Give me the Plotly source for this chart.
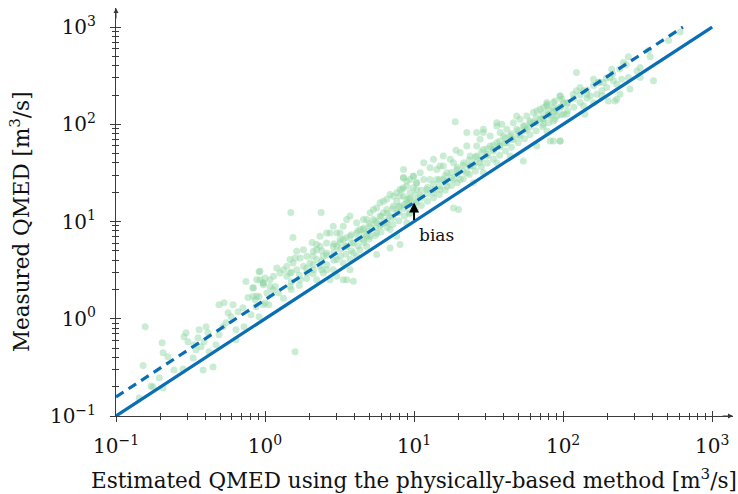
import math
import plotly.graph_objects as go

# ---- data ----
est_qmed = [
    0.157, 0.152, 0.143, 0.172, 0.195, 0.207, 0.177, 0.204, 0.207, 0.223, 0.245, 0.282, 0.295, 0.286, 0.304,
    0.329, 0.344, 0.334, 0.361, 0.355, 0.372, 0.402, 0.414, 0.39, 0.384, 0.448, 0.421, 0.469, 0.491, 0.523,
    0.547, 0.565, 0.592, 0.61, 0.531, 0.491, 0.659, 0.711, 0.723, 0.638, 0.638, 0.745, 0.83, 0.769, 0.83,
    0.912, 0.97, 0.87, 0.805, 0.912, 1.06, 1.13, 0.97, 0.912, 1.59,
    # 1 - 10
    0.835, 0.88, 0.925, 0.925, 0.86, 0.975, 1.03, 1.0, 1.49, 2.38, 1.54, 2.07, 1.81, 1.63, 1.59, 1.47, 1.40,
    1.33, 1.20, 1.14, 1.08, 0.975, 0.88, 1.0, 1.17, 1.23, 1.33, 1.47, 1.72, 1.91, 2.11, 2.34, 2.46, 2.73,
    3.03, 3.35, 3.72, 3.91, 2.11, 2.34, 2.59, 2.73, 3.03, 3.35, 3.53, 3.72, 4.12, 4.34, 4.81, 5.07, 5.33,
    5.61, 5.91, 6.22, 6.56, 6.90, 7.26, 7.65, 8.05, 8.47, 8.93, 8.47, 9.89, 10.4, 10.4, 9.40, 8.93, 8.05,
    7.65, 6.90, 6.56, 5.91, 5.61, 5.07, 4.57, 4.34, 3.91, 3.72, 3.35, 3.03, 2.87, 5.61, 6.90, 8.05, 7.65,
    8.93, 9.40, 10.4, 3.72, 3.35, 2.87, 2.46, 2.22, 2.00, 1.81, 1.63, 1.47, 1.91, 2.22, 2.59, 3.03, 3.19,
    3.53, 3.91, 4.12, 4.57, 4.81, 5.07, 5.33, 5.91, 6.22, 6.56, 7.26, 7.65, 8.47, 9.40, 9.89, 6.22, 6.90,
    5.61, 4.57, 2.87, 2.59, 2.34, 3.19, 2.22, 1.72, 1.54, 1.40, 1.26, 1.08, 4.81, 4.12, 3.53, 2.22, 2.59,
    # 8 - 100
    18.9, 19.1, 8.5, 8.3, 8.93, 9.4, 9.89, 11.0, 11.6, 12.8, 13.5, 14.9, 14.2, 16.6, 17.5, 15.7, 18.4,
    20.4, 22.6, 23.8, 26.3, 27.7, 29.2, 32.4, 35.9, 37.8, 41.9, 46.4, 51.4, 57.0, 63.2, 70.1, 77.8, 86.1,
    95.5, 98.0, 90.7, 81.9, 73.8, 63.2, 57.0, 51.4, 46.4, 41.9, 37.8, 34.1, 30.8, 27.7, 25.0, 22.6, 20.4,
    18.4, 16.6, 14.9, 13.5, 12.2, 11.0, 9.89, 8.93, 8.05, 18.4, 19.9, 25.0, 29.2, 35.9, 44.1, 54.1, 66.6,
    81.9, 95.5, 29.2, 26.3, 35.9, 38.8, 48.8, 66.6, 77.8, 22.6, 8.5, 11.6, 15.7, 10.4, 12.8, 14.2, 15.7,
    19.4, 21.5, 23.8, 26.3, 29.2, 32.4, 35.9, 39.8, 44.1, 48.8, 54.1, 60.0, 70.1, 86.1, 100.7,
    # 70 - 700
    610, 510, 374, 274, 384, 254, 329, 313, 274, 247, 229, 212, 207, 218, 196, 182, 172, 186, 160, 137,
    130, 123, 123, 144, 152, 168, 182, 241, 229, 223, 281, 329, 404, 201, 160, 137, 140, 117, 106, 95.5,
    88.4, 86.1, 95.5, 100.7, 90.7, 77.8, 73.8, 79.9, 86.1, 73.8, 77.8, 86.1, 95.5, 106,
    # dense band
    1.5, 1.5, 1.5, 1.7, 1.7, 1.9, 1.9, 2.1, 2.1, 2.1, 2.4, 2.4, 2.4, 2.6, 2.6, 2.9, 2.9, 2.9,
    3.2, 3.2, 3.2, 3.5, 3.5, 3.5, 3.8, 3.8, 3.8, 4.2, 4.2, 4.2, 4.6, 4.6, 4.6, 5.0, 5.0, 5.0,
    5.5, 5.5, 5.5, 6.0, 6.0, 6.0, 6.6, 6.6, 6.6, 7.2, 7.2, 7.2, 7.9, 7.9, 7.9, 8.6, 8.6, 8.6,
    9.3, 9.3, 9.3, 10.2, 10.2, 10.2, 11.2, 11.2, 11.2, 12.3, 12.3, 12.3, 13.5, 13.5, 13.5,
    14.8, 14.8, 14.8, 16.2, 16.2, 16.2, 17.8, 17.8, 17.8, 19.5, 19.5, 19.5, 21.4, 21.4, 21.4,
    23.5, 23.5, 23.5, 25.8, 25.8, 25.8, 28.3, 28.3, 28.3, 31, 31, 31, 34, 34, 34, 37.5, 37.5, 37.5,
    41, 41, 41, 45, 45, 45, 50, 50, 50, 55, 55, 55, 60, 60, 60, 66, 66, 66, 73, 73, 73, 80, 80, 80,
    88, 88, 97, 97, 107, 107, 118, 118, 130, 130, 145, 145, 160, 175, 195, 215, 240, 265,
]
meas_qmed = [
    0.83, 0.33, 0.153, 0.204, 0.247, 0.194, 0.199, 0.566, 0.446, 0.406, 0.298, 0.305, 0.717, 0.652, 0.579,
    0.396, 0.479, 0.54, 0.77, 0.637, 0.514, 0.828, 0.717, 0.579, 0.298, 0.32, 0.457, 0.54, 0.684, 0.828,
    0.91, 1.15, 1.05, 1.39, 1.46, 1.39, 1.18, 1.30, 0.828, 0.77, 0.608, 2.41, 2.09, 1.65, 1.69,
    1.69, 1.39, 1.33, 1.10, 1.05, 1.39, 1.99, 2.35, 3.05, 0.457,
    # 1 - 10
    2.07, 1.70, 2.52, 3.08, 1.57, 2.24, 1.84, 1.45, 12.4, 12.4, 6.84, 6.08, 5.14, 4.94, 4.22, 4.06, 3.46,
    3.20, 3.33, 2.73, 2.52, 2.33, 2.52, 2.63, 2.15, 1.84, 1.63, 2.15, 2.52, 2.96, 3.20, 3.46, 2.96, 2.52,
    2.73, 2.52, 3.20, 2.43, 4.94, 5.57, 6.03, 7.64, 7.64, 8.95, 10.5, 11.4, 9.69, 8.27, 10.5, 12.3, 13.3,
    13.8, 15.6, 16.2, 16.9, 19.0, 18.2, 19.8, 21.4, 22.2, 26.0, 28.2, 29.3, 25.0, 21.4, 19.8, 15.6, 14.4,
    12.3, 11.4, 9.69, 8.95, 7.64, 7.06, 6.52, 5.14, 4.75, 4.06, 3.75, 4.06, 3.20, 4.57, 5.35, 5.79, 7.06,
    9.69, 12.3, 15.6, 7.06, 6.52, 5.57, 4.39, 4.06, 3.75, 3.46, 3.20, 2.96, 4.39, 5.14, 4.75, 5.57, 6.52,
    5.57, 6.03, 7.64, 8.27, 7.06, 8.95, 10.5, 11.4, 12.3, 13.3, 14.4, 16.2, 18.2, 16.9, 22.2, 9.69, 8.27,
    9.69, 10.5, 8.95, 7.64, 7.06, 7.64, 5.79, 4.22, 3.75, 2.73, 2.96, 2.15, 5.57, 4.39, 2.52, 2.52, 3.20,
    # 8 - 100
    106, 54.2, 28.2, 21.4, 23.1, 27.1, 29.3, 31.7, 40.3, 35.8, 43.6, 37.2, 27.1, 31.7, 43.6, 47.1, 40.3,
    51.0, 59.7, 47.1, 59.7, 70.0, 88.8, 75.8, 96.1, 82.1, 88.8, 104, 113, 122, 132, 143, 155, 168,
    196, 181, 143, 122, 113, 104, 88.8, 75.8, 70.0, 64.6, 59.7, 55.2, 47.1, 40.3, 37.2, 31.7, 27.1,
    27.1, 23.1, 21.4, 19.8, 21.4, 18.3, 14.4, 16.9, 18.3, 13.8, 13.3, 25.0, 31.7, 40.3, 47.1, 41.9, 59.7,
    67.3, 67.3, 82.1, 82.1, 104, 100, 122, 137, 168, 82.1, 34.3, 27.1, 27.1, 25.0, 27.1, 34.3, 37.2,
    34.3, 40.3, 37.2, 47.1, 55.2, 59.7, 64.6, 75.8, 75.8, 88.8, 96.1, 104, 113, 132, 168,
    # 70 - 700
    890, 727, 575, 494, 494, 432, 384, 354, 303, 291, 258, 369, 303, 280, 239, 221, 269, 269, 291, 221,
    239, 341, 221, 204, 196, 204, 196, 204, 181, 174, 230, 303, 280, 174, 167, 155, 127, 204, 161, 196,
    174, 149, 149, 127, 122, 161, 149, 127, 108, 100, 85.3, 67.3, 67.3, 127,
    # dense band
    2.4, 2.0, 3.0, 2.8, 2.2, 3.3, 2.6, 3.6, 2.9, 4.4, 3.9, 3.2, 5.0, 4.5, 3.6, 4.8, 4.0, 5.9,
    5.2, 4.4, 6.1, 5.6, 4.6, 6.8, 6.0, 5.0, 7.3, 6.6, 5.6, 8.0, 7.4, 6.1, 8.6, 7.9, 6.6, 9.5,
    8.6, 7.2, 10.1, 9.3, 7.8, 11.2, 10.3, 8.7, 12.2, 11.0, 9.3, 13.5, 12.4, 10.2, 14.3, 13.6, 11.4, 15.0,
    14.8, 12.0, 17.4, 16.2, 13.3, 18.9, 17.6, 14.6, 21.0, 19.3, 16.2, 22.5, 21.2, 17.6, 24.0,
    23.0, 19.0, 27.0, 25.4, 21.0, 29.5, 28.0, 23.5, 32.0, 30.6, 25.0, 36.0, 33.0, 27.5, 38.0,
    37.0, 30.5, 43.0, 40.5, 33.0, 46.0, 44.0, 36.5, 52.0, 49.0, 40.0, 56.0, 53.0, 44.0, 61.0, 59.0, 48.0, 67.0,
    64.0, 53.0, 72.0, 70.0, 58.0, 80.0, 78.0, 65.0, 86.0, 86.0, 71.0, 96.0, 94.0, 78.0, 108, 103, 86.0, 117,
    114, 95.0, 128, 125, 104, 140,
    137, 113, 152, 125, 167, 138, 184, 150, 200, 168, 225, 185, 250, 272, 300, 330, 370, 410,
]

# reference lines (1:1 and biased fit), end points
one_to_one_x = [0.1, 1000]
one_to_one_y = [0.1, 1000]
biased_x = [0.1, 637]
biased_y = [0.157, 1000]

# bias arrow at Q = 10
arrow_x = 10
arrow_from = 10
arrow_to = 15.7

decades = [0.1, 1, 10, 100, 1000]
decade_labels = ["10<sup>−1</sup>", "10<sup>0</sup>", "10<sup>1</sup>", "10<sup>2</sup>", "10<sup>3</sup>"]
minor_vals = [d * k for d in decades[:-1] for k in range(2, 10)]

x_title = "Estimated QMED using the physically-based method [m<sup>3</sup>/s]"
y_title = "Measured QMED [m<sup>3</sup>/s]"

FONT = "DejaVu Serif"
BLUE = "#0a6eb4"
AXC = "#3a3a3a"
TXT = "#111111"

fig = go.Figure()
fig.add_trace(go.Scatter(
    x=est_qmed, y=meas_qmed, mode="markers",
    marker=dict(size=7, color="rgb(140,212,160)", opacity=0.45, line=dict(width=0)),
    hoverinfo="skip", showlegend=False))
fig.add_trace(go.Scatter(x=one_to_one_x, y=one_to_one_y, mode="lines",
                         line=dict(color=BLUE, width=3.2), showlegend=False))
fig.add_trace(go.Scatter(x=biased_x, y=biased_y, mode="lines",
                         line=dict(color=BLUE, width=3.2, dash="9px,6px"), showlegend=False))
# invisible trace for overlay axes (inside half of the crossing ticks)
fig.add_trace(go.Scatter(x=[1], y=[1], xaxis="x2", yaxis="y2", mode="markers",
                         marker=dict(opacity=0), hoverinfo="skip", showlegend=False))

xr = [-1, 3.14]
yr = [-1, 3.196]

minor_out = dict(ticks="outside", ticklen=3, tickcolor=AXC, tickvals=minor_vals, showgrid=False)
minor_in = dict(ticks="inside", ticklen=3, tickcolor=AXC, tickvals=minor_vals, showgrid=False)
common = dict(type="log", showgrid=False, zeroline=False, linecolor=AXC, linewidth=1,
              tickcolor=AXC, tickwidth=1, tickvals=decades, ticktext=decade_labels,
              tickfont=dict(family=FONT, size=20, color=TXT))
fig.update_layout(
    width=738, height=494,
    margin=dict(l=116, r=5, t=8, b=78),
    plot_bgcolor="white", paper_bgcolor="white",
    xaxis=dict(common, range=xr, showline=True, ticks="outside", ticklen=5, minor=minor_out,
               ticklabelstandoff=7),
    yaxis=dict(common, range=yr, showline=True, ticks="outside", ticklen=5, minor=minor_out,
               ticklabelstandoff=10),
    xaxis2=dict(type="log", range=xr, overlaying="x", showgrid=False, zeroline=False,
                showticklabels=False, ticks="inside", ticklen=5, tickcolor=AXC, tickvals=decades,
                minor=minor_in, anchor="y2"),
    yaxis2=dict(type="log", range=yr, overlaying="y", showgrid=False, zeroline=False,
                showticklabels=False, ticks="inside", ticklen=5, tickcolor=AXC, tickvals=decades,
                minor=minor_in, anchor="x2"),
)

# axis titles
fig.add_annotation(xref="paper", yref="paper", x=0.483, y=-0.154, text=x_title, showarrow=False,
                   xanchor="center", yanchor="middle", font=dict(family=FONT, size=21.5, color=TXT))
fig.add_annotation(xref="paper", yref="paper", x=-0.156, y=0.475, text=y_title, showarrow=False,
                   textangle=-90, xanchor="center", yanchor="middle",
                   font=dict(family=FONT, size=21.5, color=TXT))

# axis arrowheads
fig.add_annotation(xref="paper", yref="paper", x=1.0, y=0, ax=-12, ay=0, text="",
                   showarrow=True, arrowhead=2, arrowsize=1, arrowwidth=1, arrowcolor=AXC)
fig.add_annotation(xref="paper", yref="paper", x=0, y=1.0, ax=0, ay=12, text="",
                   showarrow=True, arrowhead=2, arrowsize=1, arrowwidth=1, arrowcolor=AXC)

# bias arrow and label
fig.add_annotation(x=math.log10(arrow_x), y=math.log10(arrow_to),
                   ax=math.log10(arrow_x), ay=math.log10(arrow_from),
                   xref="x", yref="y", axref="x", ayref="y", text="",
                   showarrow=True, arrowhead=2, arrowsize=1, arrowwidth=2, arrowcolor="black")
fig.add_annotation(x=math.log10(arrow_x), y=math.log10(arrow_from), xref="x", yref="y",
                   text="bias", showarrow=False, xanchor="left", yanchor="top",
                   xshift=3, yshift=-1, font=dict(family=FONT, size=17, color=TXT))

fig.write_html("out.html")
